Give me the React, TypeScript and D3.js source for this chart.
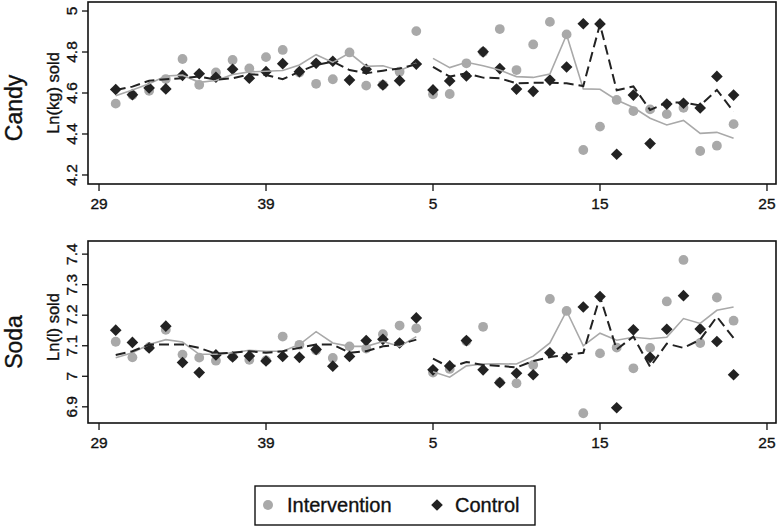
import React from "react";
import * as d3 from "d3";

// x positions: week index (0 = week 29), tick labels show week numbers
const tickIdx = [0, 10, 20, 30, 40];
const tickLabels = ["29", "39", "5", "15", "25"];
const weekIdx = d3.range(1, 39);

const candyTicks = [4.2, 4.4, 4.6, 4.8, 5];
const sodaTicks = [6.9, 7, 7.1, 7.2, 7.3, 7.4];

const candyInt = [4.548, 4.59, 4.611, 4.668, 4.766, 4.640, 4.700, 4.761, 4.720, 4.775, 4.810, 4.70, 4.645, 4.667, 4.798, 4.636, 4.64, 4.704, 4.902,
  4.594, 4.595, 4.745, 4.80, 4.912, 4.712, 4.837, 4.947, 4.886, 4.322, 4.436, 4.566, 4.512, 4.520, 4.497, 4.528, 4.317, 4.343, 4.448];
const candyCtl = [4.617, 4.592, 4.625, 4.620, 4.686, 4.694, 4.677, 4.716, 4.672, 4.704, 4.743, 4.704, 4.745, 4.755, 4.663, 4.716, 4.639, 4.660, 4.741,
  4.615, 4.659, 4.683, 4.801, 4.719, 4.619, 4.608, 4.663, 4.727, 4.938, 4.937, 4.301, 4.590, 4.353, 4.546, 4.550, 4.527, 4.681, 4.590];
const candyIntFit = [4.586, 4.615, 4.645, 4.683, 4.687, 4.652, 4.661, 4.690, 4.703, 4.706, 4.710, 4.737, 4.787, 4.749, 4.795, 4.730, 4.733, 4.709, 4.745,
  4.769, 4.724, 4.750, 4.733, 4.712, 4.680, 4.676, 4.693, 4.884, 4.620, 4.618, 4.566, 4.529, 4.477, 4.444, 4.466, 4.403, 4.408, 4.379];
const candyCtlFit = [4.615, 4.631, 4.660, 4.667, 4.672, 4.680, 4.665, 4.672, 4.691, 4.688, 4.667, 4.704, 4.737, 4.753, 4.712, 4.696, 4.709, 4.720, 4.740,
  4.728, 4.680, 4.696, 4.675, 4.672, 4.647, 4.650, 4.650, 4.647, 4.634, 4.935, 4.613, 4.632, 4.517, 4.554, 4.554, 4.539, 4.615, 4.509];

const sodaInt = [7.113, 7.062, 7.095, 7.152, 7.071, 7.061, 7.051, 7.065, 7.054, 7.052, 7.130, 7.103, 7.085, 7.060, 7.098, 7.091, 7.138, 7.166, 7.157,
  7.012, 7.024, 7.115, 7.162, 6.980, 6.977, 7.037, 7.253, 7.214, 6.879, 7.075, 7.094, 7.026, 7.093, 7.245, 7.381, 7.109, 7.258, 7.182];
const sodaCtl = [7.151, 7.111, 7.093, 7.164, 7.045, 7.012, 7.070, 7.063, 7.066, 7.050, 7.065, 7.062, 7.088, 7.033, 7.065, 7.117, 7.121, 7.109, 7.191,
  7.021, 7.034, 7.117, 7.021, 6.979, 7.010, 7.005, 7.077, 7.061, 7.227, 7.261, 6.897, 7.152, 7.062, 7.154, 7.264, 7.155, 7.114, 7.005];
const sodaIntFit = [7.061, 7.077, 7.104, 7.120, 7.112, 7.072, 7.072, 7.077, 7.085, 7.082, 7.082, 7.104, 7.146, 7.109, 7.098, 7.098, 7.114, 7.098, 7.130,
  7.015, 6.997, 7.034, 7.040, 7.041, 7.040, 7.066, 7.109, 7.214, 7.100, 7.141, 7.118, 7.128, 7.123, 7.128, 7.189, 7.173, 7.216, 7.227];
const sodaCtlFit = [7.070, 7.082, 7.104, 7.104, 7.104, 7.093, 7.074, 7.077, 7.082, 7.077, 7.082, 7.093, 7.104, 7.104, 7.077, 7.082, 7.098, 7.104, 7.120,
  7.058, 7.029, 7.047, 7.037, 7.034, 7.029, 7.050, 7.063, 7.070, 7.077, 7.261, 7.088, 7.130, 7.031, 7.107, 7.093, 7.120, 7.195, 7.125];

const segments = [[0, 19], [19, 38]];

const FONT = "'Liberation Sans', Arial, Helvetica, sans-serif";
const GRAY = "#a9a9a9";
const DARK = "#222222";
const INK = "#111111";

const x = d3.scaleLinear().domain([-0.66, 40.54]).range([88, 776]);

const diamondPath = d3.symbol(d3.symbolSquare, 68)() as string;
const circleR = 4.9;

type PanelProps = {
  top: number;
  bottom: number;
  domain: [number, number];
  ticks: number[];
  title: string;
  titleY: number;
  yLabel: string;
  yLabelY: number;
  intV: number[];
  ctlV: number[];
  intFit: number[];
  ctlFit: number[];
};

const thick = { stroke: INK, strokeWidth: 0.35 };

function Panel(p: PanelProps) {
  const y = d3.scaleLinear().domain(p.domain).range([p.bottom, p.top]);
  const segLine = (vals: number[], s: number[]) =>
    d3
      .line<[number, number]>()
      .x((d) => x(d[0]))
      .y((d) => y(d[1]))(vals.slice(s[0], s[1]).map((v, k) => [weekIdx[s[0] + k], v]));
  const [x0, x1] = x.range();
  return (
    <g>
      <text
        transform={`translate(22,${p.titleY}) rotate(-90)`}
        textAnchor="middle"
        fontSize={23}
        fontFamily={FONT}
        fill={INK}
        {...thick}
      >
        {p.title}
      </text>
      <text
        transform={`translate(59,${p.yLabelY}) rotate(-90)`}
        textAnchor="middle"
        fontSize={16.5}
        fontFamily={FONT}
        fill={INK}
        {...thick}
      >
        {p.yLabel}
      </text>
      {p.ticks.map((t) => (
        <g key={t}>
          <line x1={82} x2={x0} y1={y(t)} y2={y(t)} stroke={INK} strokeWidth={1.3} />
          <text
            transform={`translate(77,${y(t)}) rotate(-90)`}
            textAnchor="middle"
            fontSize={15.5}
            fontFamily={FONT}
            fill={INK}
            {...thick}
          >
            {String(t)}
          </text>
        </g>
      ))}
      {tickIdx.map((t, k) => (
        <g key={t}>
          <line x1={x(t)} x2={x(t)} y1={p.bottom} y2={p.bottom + 7} stroke={INK} strokeWidth={1.3} />
          <text x={x(t)} y={p.bottom + 25} textAnchor="middle" fontSize={15.5} fontFamily={FONT} fill={INK} {...thick}>
            {tickLabels[k]}
          </text>
        </g>
      ))}
      {p.intV.map((v, i) => (
        <circle key={"c" + i} cx={x(weekIdx[i])} cy={y(v)} r={circleR} fill={GRAY} />
      ))}
      {p.ctlV.map((v, i) => (
        <path
          key={"d" + i}
          d={diamondPath}
          transform={`translate(${x(weekIdx[i])},${y(v)}) rotate(45)`}
          fill={DARK}
        />
      ))}
      {segments.map((s, k) => (
        <g key={"s" + k}>
          <path d={segLine(p.intFit, s) as string} fill="none" stroke={GRAY} strokeWidth={1.6} />
          <path
            d={segLine(p.ctlFit, s) as string}
            fill="none"
            stroke={DARK}
            strokeWidth={2}
            strokeDasharray="10,5"
          />
        </g>
      ))}
      <rect x={x0} y={p.top} width={x1 - x0} height={p.bottom - p.top} fill="none" stroke={INK} strokeWidth={1.6} />
    </g>
  );
}

export default function App() {
  return (
    <svg
      width={778}
      height={527}
      style={{ position: "absolute", left: 0, top: 0, background: "#fff" }}
    >
      <Panel
        top={2}
        bottom={184}
        domain={[4.156, 5.044]}
        ticks={candyTicks}
        title="Candy"
        titleY={108}
        yLabel="Ln(kg) sold"
        yLabelY={93}
        intV={candyInt}
        ctlV={candyCtl}
        intFit={candyIntFit}
        ctlFit={candyCtlFit}
      />
      <Panel
        top={241}
        bottom={423}
        domain={[6.847, 7.443]}
        ticks={sodaTicks}
        title="Soda"
        titleY={342}
        yLabel="Ln(l) sold"
        yLabelY={327}
        intV={sodaInt}
        ctlV={sodaCtl}
        intFit={sodaIntFit}
        ctlFit={sodaCtlFit}
      />
      <g>
        <rect x={255} y={486} width={280} height={39} fill="none" stroke={INK} strokeWidth={1.4} />
        <circle cx={268} cy={505} r={5} fill={GRAY} />
        <text x={287} y={512} fontSize={20} fontFamily={FONT} fill={INK} {...thick}>
          Intervention
        </text>
        <path d={diamondPath} transform="translate(437,505) rotate(45)" fill={DARK} />
        <text x={455} y={512} fontSize={20} fontFamily={FONT} fill={INK} {...thick}>
          Control
        </text>
      </g>
    </svg>
  );
}
